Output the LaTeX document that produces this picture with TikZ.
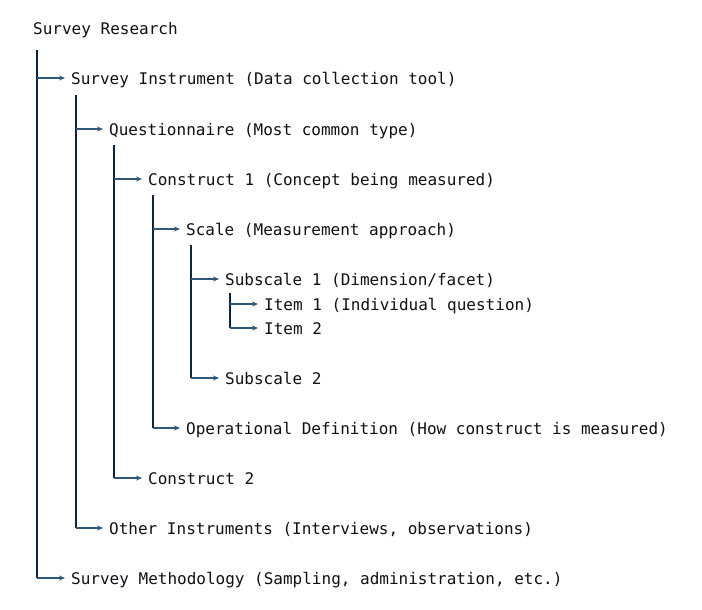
\documentclass[tikz,border=0pt]{standalone}
\usepackage{fontspec}
\setmonofont{DejaVu Sans Mono}
\usetikzlibrary{calc,arrows.meta}
\definecolor{linec}{HTML}{0D2340}
\definecolor{arrc}{HTML}{2E5878}
\definecolor{txtc}{HTML}{0E1116}
\begin{document}
\begin{tikzpicture}[x=1pt,y=-1pt,
  t/.style={anchor=west,inner sep=0pt,text height=13.5pt,text depth=0pt,font=\ttfamily\fontsize{16}{18}\selectfont,text=txtc},
  vl/.style={draw=linec,line width=1.8pt},
  arr/.style={draw=arrc,line width=1.5pt,-{Stealth[length=6pt,width=5pt]}}]
\useasboundingbox (0,0) rectangle (702,610);
\fill[white] (0,0) rectangle (702,610);
\node[t] (r)  at (33,28)  {Survey Research};
\node[t] (si) at (71,78)  {Survey Instrument (Data collection tool)};
\node[t] (q)  at (109,129) {Questionnaire (Most common type)};
\node[t] (c1) at (148,179) {Construct 1 (Concept being measured)};
\node[t] (s)  at (186,229) {Scale (Measurement approach)};
\node[t] (s1) at (225,279) {Subscale 1 (Dimension/facet)};
\node[t] (i1) at (264,304) {Item 1 (Individual question)};
\node[t] (i2) at (264,328) {Item 2};
\node[t] (s2) at (225,378) {Subscale 2};
\node[t] (od) at (186,428) {Operational Definition (How construct is measured)};
\node[t] (c2) at (148,478) {Construct 2};
\node[t] (oi) at (109,528) {Other Instruments (Interviews, observations)};
\node[t] (sm) at (71,578) {Survey Methodology (Sampling, administration, etc.)};
% vertical tops
\coordinate (rt)  at ($(r.west)+(4,22)$);
\coordinate (sit) at ($(si.west)+(5,17)$);
\coordinate (qt)  at ($(q.west)+(5,16)$);
\coordinate (c1t) at ($(c1.west)+(5,16)$);
\coordinate (st)  at ($(s.west)+(5,16)$);
\coordinate (s1t) at ($(s1.west)+(5,14)$);
% verticals
\draw[vl] (rt) -- (rt |- sm.west);
\draw[vl] (sit) -- (sit |- oi.west);
\draw[vl] (qt) -- (qt |- c2.west);
\draw[vl] (c1t) -- (c1t |- od.west);
\draw[vl] (st) -- (st |- s2.west);
\draw[vl] (s1t) -- (s1t |- i2.west);
% arrows
\draw[arr] (rt |- si.west) -- ([xshift=-6pt]si.west);
\draw[arr] (rt |- sm.west) -- ([xshift=-6pt]sm.west);
\draw[arr] (sit |- q.west) -- ([xshift=-6pt]q.west);
\draw[arr] (sit |- oi.west) -- ([xshift=-6pt]oi.west);
\draw[arr] (qt |- c1.west) -- ([xshift=-6pt]c1.west);
\draw[arr] (qt |- c2.west) -- ([xshift=-6pt]c2.west);
\draw[arr] (c1t |- s.west) -- ([xshift=-6pt]s.west);
\draw[arr] (c1t |- od.west) -- ([xshift=-6pt]od.west);
\draw[arr] (st |- s1.west) -- ([xshift=-6pt]s1.west);
\draw[arr] (st |- s2.west) -- ([xshift=-6pt]s2.west);
\draw[arr] (s1t |- i1.west) -- ([xshift=-6pt]i1.west);
\draw[arr] (s1t |- i2.west) -- ([xshift=-6pt]i2.west);
\end{tikzpicture}
\end{document}
